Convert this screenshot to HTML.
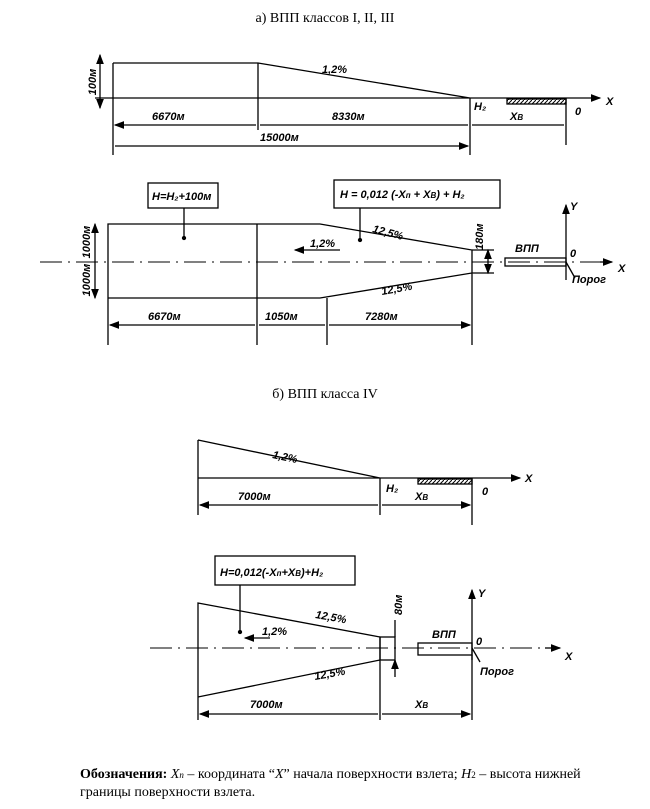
<!DOCTYPE html><html><head><meta charset="utf-8"><style>body{margin:0;background:#fff}svg{display:block}text{font-family:"Liberation Sans",sans-serif;font-style:italic;font-weight:bold;font-size:11px}.t{font-family:"Liberation Serif",serif;font-style:normal;font-weight:normal;font-size:14px}</style></head><body>
<svg width="650" height="809" viewBox="0 0 650 809" stroke="#000" fill="none" stroke-width="1.3">
<defs><marker id="a" markerWidth="8" markerHeight="6" refX="7" refY="3" orient="auto-start-reverse"><path d="M0,0L8,3L0,6z" fill="#000" stroke="none"/></marker>
<pattern id="h" width="4" height="4" patternUnits="userSpaceOnUse"><path d="M0,4L4,0" stroke-width="1"/></pattern></defs>
<text x="325" y="22" class="t" text-anchor="middle" stroke="none" fill="#000">а) ВПП классов I, II, III</text>
<!-- panel a profile -->
<path d="M113,63L258,63L470,98M95,98L600,98" marker-end="url(#a)" />
<path d="M113,63V155M258,63V130M470,98V155M566,98V145"/>
<rect x="507" y="99" width="59" height="5" fill="url(#h)"/>
<path d="M100,55V108" marker-start="url(#a)" marker-end="url(#a)"/>
<path d="M115,125H256M260,125H468M472,125H564M115,146H468" marker-start="url(#a)" marker-end="url(#a)"/>
<g stroke="none" fill="#000"><text x="96" y="82" transform="rotate(-90 96 82)" text-anchor="middle">100м</text>
<text x="322" y="73">1,2%</text><text x="152" y="120">6670м</text><text x="332" y="120">8330м</text><text x="260" y="141">15000м</text>
<text x="474" y="110">H₂</text><text x="510" y="120">X<tspan font-size="8">В</tspan></text><text x="575" y="115">0</text><text x="606" y="105" font-size="13">X</text></g>
<!-- panel a plan -->
<path d="M108,224H320L472,250V273L320,298H108Z M257,224V345M108,298V345M327,298V345M472,273V345"/>
<path d="M40,262H600" stroke-dasharray="22,6,2,6" stroke-width="1"/>
<path d="M600,262H612" marker-end="url(#a)"/><path d="M566,280V205" marker-end="url(#a)"/>
<rect x="505" y="258" width="61" height="8"/>
<path d="M95,224V298M95,224V260M95,264V298" marker-start="url(#a)" marker-end="url(#a)"/>
<path d="M488,250V273" marker-start="url(#a)" marker-end="url(#a)"/><path d="M472,250H494M472,273H494"/>
<path d="M110,325H255M259,325H325M329,325H470" marker-start="url(#a)" marker-end="url(#a)"/>
<path d="M340,250H295" marker-end="url(#a)"/>
<rect x="148" y="183" width="70" height="25" fill="#fff"/><rect x="334" y="180" width="166" height="28" fill="#fff"/>
<path d="M184,208V238M360,208V240"/><circle cx="184" cy="238" r="1.5" fill="#000"/><circle cx="360" cy="240" r="1.5" fill="#000"/>
<g stroke="none" fill="#000"><text x="152" y="200">H=H₂+100м</text><text x="340" y="198" font-size="12">H = 0,012 (-X<tspan font-size="8">п</tspan> + X<tspan font-size="8">В</tspan>) + H₂</text>
<text x="372" y="232" transform="rotate(15 372 232)">12,5%</text><text x="382" y="295" transform="rotate(-10 382 295)">12,5%</text><text x="310" y="247">1,2%</text>
<text x="90" y="242" transform="rotate(-90 90 242)" text-anchor="middle" font-size="10">1000м</text><text x="90" y="280" transform="rotate(-90 90 280)" text-anchor="middle" font-size="10">1000м</text>
<text x="483" y="250" transform="rotate(-90 483 250)" font-size="10">180м</text>
<text x="515" y="252">ВПП</text><text x="570" y="257">0</text><text x="572" y="283">Порог</text><text x="618" y="272" font-size="13">X</text><text x="570" y="210" font-size="13">Y</text>
<text x="148" y="320">6670м</text><text x="265" y="320">1050м</text><text x="365" y="320">7280м</text></g>
<path d="M566,262L575,278"/>
<text x="325" y="398" class="t" text-anchor="middle" stroke="none" fill="#000">б) ВПП класса IV</text>
<!-- panel b profile -->
<path d="M198,440L380,478M198,478H520" marker-end="url(#a)"/>
<path d="M198,440V515M380,478V515M472,478V525"/>
<rect x="418" y="479" width="54" height="5" fill="url(#h)"/>
<path d="M200,505H378M382,505H470" marker-start="url(#a)" marker-end="url(#a)"/>
<g stroke="none" fill="#000"><text x="272" y="458" transform="rotate(12 272 458)">1,2%</text><text x="386" y="492">H₂</text><text x="238" y="500">7000м</text><text x="415" y="500">X<tspan font-size="8">В</tspan></text><text x="482" y="495">0</text><text x="525" y="482" font-size="13">X</text></g>
<!-- panel b plan -->
<path d="M198,603L380,637V660L198,697Z M198,697V720M380,660V720M472,655V720"/>
<rect x="380" y="637" width="15" height="23"/>
<path d="M150,648H560" stroke-dasharray="22,6,2,6" stroke-width="1"/>
<path d="M545,648H560" marker-end="url(#a)"/><path d="M472,660V590" marker-end="url(#a)"/>
<rect x="418" y="643" width="54" height="12"/>
<path d="M395,620V637M395,677V660" marker-end="url(#a)"/>
<path d="M200,714H378M382,714H470" marker-start="url(#a)" marker-end="url(#a)"/>
<path d="M270,638H245" marker-end="url(#a)"/>
<rect x="215" y="556" width="140" height="29" fill="#fff"/><path d="M240,585V632"/><circle cx="240" cy="632" r="1.5" fill="#000"/>
<path d="M472,648L480,662"/>
<g stroke="none" fill="#000"><text x="220" y="576" font-size="12">H=0,012(-X<tspan font-size="8">п</tspan>+X<tspan font-size="8">В</tspan>)+H₂</text>
<text x="315" y="618" transform="rotate(10 315 618)">12,5%</text><text x="315" y="680" transform="rotate(-10 315 680)">12,5%</text><text x="262" y="635">1,2%</text>
<text x="402" y="615" transform="rotate(-90 402 615)" font-size="10">80м</text>
<text x="432" y="638">ВПП</text><text x="476" y="645">0</text><text x="480" y="675">Порог</text><text x="565" y="660" font-size="13">X</text><text x="478" y="597" font-size="13">Y</text>
<text x="250" y="708">7000м</text><text x="415" y="708">X<tspan font-size="8">В</tspan></text></g>
<g stroke="none" fill="#000" class="t"><text x="80" y="778" class="t" font-size="13"><tspan font-weight="bold">Обозначения:</tspan>  <tspan font-style="italic">X<tspan font-size="9">п</tspan></tspan> – координата “<tspan font-style="italic">X</tspan>” начала поверхности взлета; <tspan font-style="italic">H</tspan><tspan font-size="9">2</tspan> – высота нижней</text>
<text x="80" y="796" class="t" font-size="13">границы поверхности взлета.</text></g>
</svg></body></html>
